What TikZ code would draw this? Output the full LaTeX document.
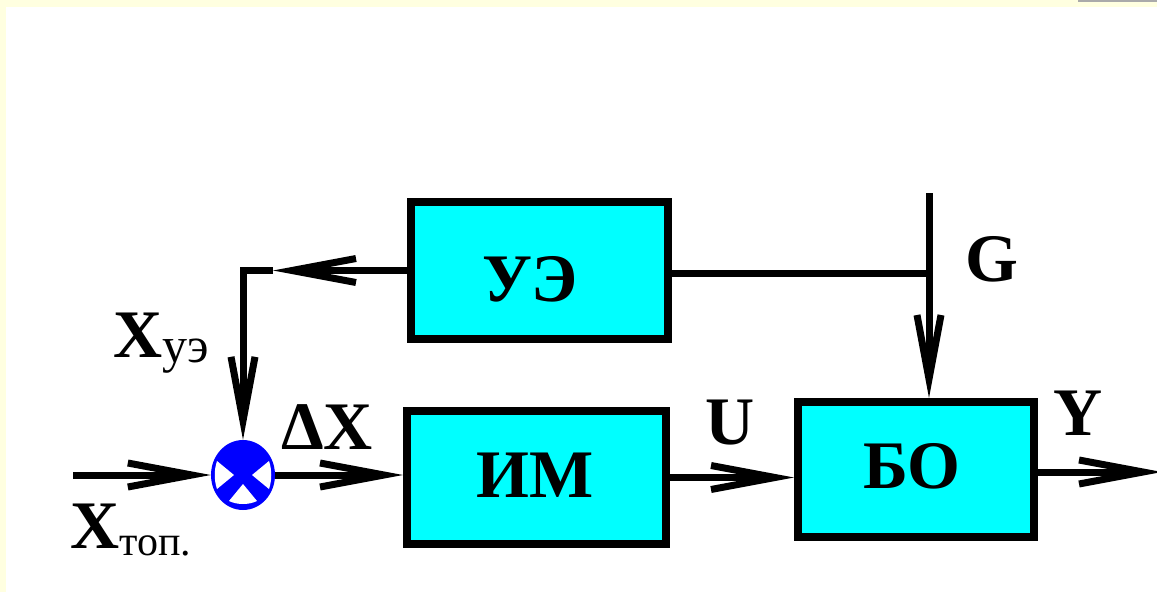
\documentclass[tikz,border=0pt]{standalone}
\usepackage{fontspec}
\setmainfont{Liberation Serif}
\usetikzlibrary{arrows.meta,shapes.geometric}
\definecolor{cream}{HTML}{FFFFE0}
\definecolor{framegray}{HTML}{AAAAAA}
\definecolor{boxcyan}{HTML}{00FFFF}
\definecolor{sumblue}{HTML}{0000FF}
\tikzset{
  blockbox/.style={draw=black, line width=8pt, fill=boxcyan, inner sep=0pt},
  boxtext/.style={anchor=base, inner sep=0pt, font=\fontsize{68}{68}\selectfont\bfseries},
  sig/.style={anchor=base, inner sep=0pt, font=\fontsize{68}{68}\selectfont\bfseries},
  subsig/.style={anchor=base west, inner sep=0pt, font=\fontsize{68}{68}\selectfont\bfseries},
  conn/.style={draw=black, line width=7pt, line join=miter},
  arr/.style={conn, -{Straight Barb[length=64pt,width=24pt]}},
}
\newcommand{\subtxt}[2]{{\fontsize{#1}{#1}\selectfont\mdseries #2}}
\begin{document}
\begin{tikzpicture}[x=1pt,y=-1pt]
\useasboundingbox (0,0) rectangle (1157,592);
\fill[white] (0,0) rectangle (1157,592);
\fill[cream] (0,0) rectangle (1157,7);
\fill[cream] (0,0) rectangle (6,592);
\fill[framegray] (1078,0) rectangle (1157,2);
% blocks
\node[blockbox, minimum width=257pt, minimum height=137pt] (ue) at (539.5,270.5) {};
\node[blockbox, minimum width=259pt, minimum height=133pt] (im) at (536.5,477.5) {};
\node[blockbox, minimum width=236pt, minimum height=135pt] (bo) at (916,469.5) {};
\node[boxtext] (uet) at (530,301) {УЭ};
\node[boxtext] (imt) at (535,497) {ИМ};
\node[boxtext] (bot) at (912,488) {БО};
% summing junction
\node[ellipse, fill=sumblue, minimum width=64pt, minimum height=70pt, inner sep=0pt] (sum) at (243,475) {};
\fill[white] (217,461) -- (234,475) -- (217,489) .. controls (214,480) and (214,470) .. cycle;
\fill[white] (269,461) -- (252,475) -- (269,489) .. controls (272,480) and (272,470) .. cycle;
\fill[white] (243,484) -- (257,501) .. controls (249,505) and (237,505) .. (229,501) -- cycle;
% coordinates
\coordinate (xin) at (73,475);
\coordinate (fbtip) at (273,270.5);
\coordinate (fbcorner) at (243,270.5);
\coordinate (gtop) at (929,193);
\coordinate (gj) at (929,273);
\coordinate (yout) at (1162,472);
% connectors
\draw[arr] (xin) -- (sum.west);
\draw[arr] (sum.east) -- (im.west |- sum.east);
\draw[arr] (im.east) -- (bo.west |- im.east);
\draw[arr] (bo.east |- yout) -- (yout);
\draw[arr] (ue.west) -- (fbtip);
\draw[arr] (fbtip) -- (fbcorner) -- (fbcorner |- sum.north);
\draw[conn] (ue.east |- gj) -- (gj);
\draw[arr] (gtop) -- (gtop |- bo.north);
% labels
\node[sig] (gl) at (992,281) {G};
\node[sig] (ul) at (730,444) {U};
\node[sig] (yl) at (1078,435) {Y};
\node[sig] (dxl) at (327,449) {ΔX};
\node[subsig] (xuel) at (113,357) {X\raisebox{-5pt}{\subtxt{50}{уэ}}};
\node[subsig] (xtopl) at (70,548) {X\raisebox{-7pt}{\subtxt{42}{топ.}}};
\end{tikzpicture}
\end{document}
